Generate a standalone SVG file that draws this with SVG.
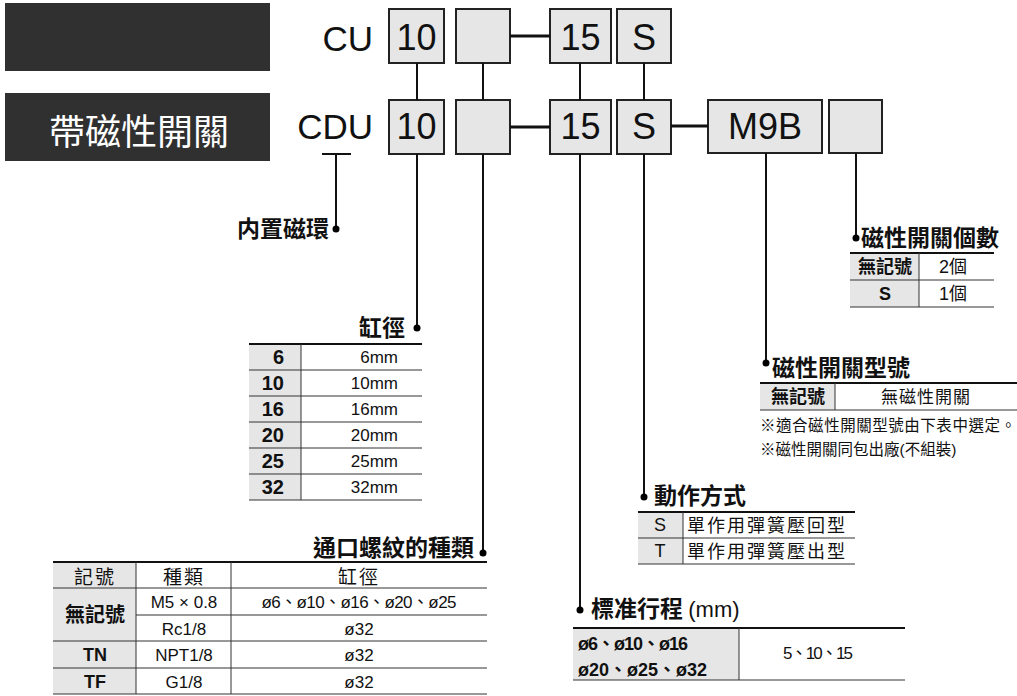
<svg xmlns="http://www.w3.org/2000/svg" width="1017" height="696" viewBox="0 0 1017 696">
<style>
text{font-family:"Liberation Sans","Noto Sans CJK TC",sans-serif;fill:#111}
.box{fill:#e6e6e6;stroke:#222;stroke-width:2}
.big{font-size:36px;text-anchor:middle}
.lbl{font-size:35px;text-anchor:end}
.ln{stroke:#111;stroke-width:2;fill:none}
.dash{stroke:#111;stroke-width:3;fill:none}
.ttl{font-family:"Noto Sans CJK TC",sans-serif;font-size:23px;font-weight:700}
.grey{fill:#e6e6e6}
.top{stroke:#111;stroke-width:2}
.row{stroke:#333;stroke-width:1}
.c{text-anchor:middle}
.e{text-anchor:end}
.b{font-weight:700}
.t18{font-size:18px}
.t17{font-size:17px}
.t20{font-size:20px}
</style>
<g id="header-dark">
<rect x="5" y="3" width="265" height="68" fill="#303030"/>
<rect x="5" y="93" width="265" height="68" fill="#303030"/>
<text x="139" y="145" font-size="36" text-anchor="middle" style="fill:#fff;font-family:'Noto Sans CJK TC',sans-serif">帶磁性開關</text>
</g>
<g id="row1">
<text class="lbl" x="373" y="51">CU</text>
<rect class="box" x="389" y="9" width="55" height="54"/><text class="big" x="416.5" y="50">10</text>
<rect class="box" x="456" y="9" width="54" height="54"/>
<rect class="box" x="550" y="9" width="61" height="54"/><text class="big" x="580.5" y="50">15</text>
<rect class="box" x="617" y="9" width="54" height="54"/><text class="big" x="644" y="50">S</text>
</g>
<g id="row2">
<text class="lbl" x="373" y="139">CDU</text>
<rect class="box" x="389" y="100" width="55" height="54"/><text class="big" x="416.5" y="139">10</text>
<rect class="box" x="456" y="100" width="54" height="54"/>
<rect class="box" x="550" y="100" width="61" height="54"/><text class="big" x="580.5" y="139">15</text>
<rect class="box" x="617" y="100" width="54" height="54"/><text class="big" x="644" y="139">S</text>
<rect class="box" x="708" y="100" width="114" height="53"/><text class="big" x="765" y="139">M9B</text>
<rect class="box" x="829" y="100" width="53" height="53"/>
</g>
<g id="connectors">
<line class="dash" x1="510" y1="36" x2="550" y2="36"/>
<line class="dash" x1="510" y1="127" x2="550" y2="127"/>
<line class="dash" x1="671" y1="126" x2="708" y2="126"/>
<line class="ln" x1="417" y1="63" x2="417" y2="100"/>
<line class="ln" x1="483" y1="63" x2="483" y2="100"/>
<line class="ln" x1="580" y1="63" x2="580" y2="100"/>
<line class="ln" x1="644" y1="63" x2="644" y2="100"/>
<line class="ln" x1="322" y1="154" x2="351" y2="154"/>
<line class="ln" x1="336" y1="154" x2="336" y2="229"/>
<line class="ln" x1="417" y1="154" x2="417" y2="328"/>
<line class="ln" x1="483" y1="154" x2="483" y2="553"/>
<line class="ln" x1="580" y1="154" x2="580" y2="610"/>
<line class="ln" x1="644" y1="154" x2="644" y2="497"/>
<line class="ln" x1="766" y1="153" x2="766" y2="363"/>
<line class="ln" x1="856" y1="153" x2="856" y2="238"/>
<circle cx="336" cy="229" r="3.5"/>
<circle cx="417" cy="328" r="3.5"/>
<circle cx="483" cy="553" r="3.5"/>
<circle cx="580" cy="610" r="3.5"/>
<circle cx="644" cy="497" r="3.5"/>
<circle cx="766" cy="363" r="3.5"/>
<circle cx="856" cy="238" r="3.5"/>
</g>
<g id="magnet-ring">
<text class="ttl e" x="329" y="237">内置磁環</text>
</g>
<g id="bore">
<text class="ttl e" x="405" y="336">缸徑</text>
<rect class="grey" x="249" y="344" width="52" height="156"/>
<line class="top" x1="249" y1="344" x2="422" y2="344"/>
<line class="row" x1="249" y1="370" x2="422" y2="370"/>
<line class="row" x1="249" y1="396" x2="422" y2="396"/>
<line class="row" x1="249" y1="422" x2="422" y2="422"/>
<line class="row" x1="249" y1="448" x2="422" y2="448"/>
<line class="row" x1="249" y1="474" x2="422" y2="474"/>
<line class="row" x1="249" y1="500" x2="422" y2="500"/>
<line class="row" x1="301" y1="344" x2="301" y2="500"/>
<g class="b e t20"><text x="284" y="364">6</text><text x="284" y="390">10</text><text x="284" y="416">16</text><text x="284" y="442">20</text><text x="284" y="468">25</text><text x="284" y="494">32</text></g>
<g class="e t17"><text x="398" y="363">6mm</text><text x="398" y="389">10mm</text><text x="398" y="415">16mm</text><text x="398" y="441">20mm</text><text x="398" y="467">25mm</text><text x="398" y="493">32mm</text></g>
</g>
<g id="port">
<text class="ttl e" x="474" y="556">通口螺紋的種類</text>
<rect class="grey" x="53" y="562" width="83" height="132"/>
<line class="top" x1="53" y1="562" x2="487" y2="562"/>
<line class="row" x1="53" y1="588" x2="487" y2="588"/>
<line class="row" x1="136" y1="615" x2="487" y2="615"/>
<line class="row" x1="53" y1="641" x2="487" y2="641"/>
<line class="row" x1="53" y1="668" x2="487" y2="668"/>
<line class="row" x1="53" y1="694" x2="487" y2="694"/>
<line class="row" x1="136" y1="562" x2="136" y2="694"/>
<line class="row" x1="231" y1="562" x2="231" y2="694"/>
<g class="c" style="letter-spacing:2px;font-size:19px"><text x="95" y="584">記號</text><text x="184" y="584">種類</text><text x="359" y="584">缸徑</text></g>
<text class="c b t20" x="95" y="622">無記號</text>
<text class="c b t18" x="95" y="661">TN</text>
<text class="c b t18" x="95" y="688">TF</text>
<g class="c t17"><text x="184" y="608">M5 × 0.8</text><text x="184" y="635">Rc1/8</text><text x="184" y="661">NPT1/8</text><text x="184" y="688">G1/8</text>
<text x="359" y="608" textLength="195">ø6、ø10、ø16、ø20、ø25</text><text x="359" y="635">ø32</text><text x="359" y="661">ø32</text><text x="359" y="688">ø32</text></g>
</g>
<g id="stroke">
<text class="ttl" x="591" y="617">標准行程 <tspan style="font-family:'Liberation Sans',sans-serif;font-weight:400;font-size:22px">(mm)</tspan></text>
<rect class="grey" x="573" y="628" width="166" height="52"/>
<line class="top" x1="573" y1="628" x2="905" y2="628"/>
<line class="row" x1="573" y1="680" x2="905" y2="680"/>
<line class="row" x1="739" y1="628" x2="739" y2="680"/>
<text class="b t18" x="578" y="650" textLength="110">ø6、ø10、ø16</text>
<text class="b t18" x="578" y="676" textLength="129">ø20、ø25、ø32</text>
<text class="t17" x="783" y="659" textLength="70">5、10、15</text>
</g>
<g id="action">
<text class="ttl" x="654" y="504">動作方式</text>
<rect class="grey" x="638" y="512" width="45" height="52"/>
<line class="top" x1="638" y1="512" x2="855" y2="512"/>
<line class="row" x1="638" y1="538" x2="855" y2="538"/>
<line class="row" x1="638" y1="564" x2="855" y2="564"/>
<line class="row" x1="683" y1="512" x2="683" y2="564"/>
<text class="c t18" x="660" y="531">S</text>
<text class="c t18" x="660" y="557">T</text>
<text class="t18" x="687" y="532" textLength="158">單作用彈簧壓回型</text>
<text class="t18" x="687" y="558" textLength="158">單作用彈簧壓出型</text>
</g>
<g id="switch-count">
<text class="ttl" x="861" y="246">磁性開關個數</text>
<rect class="grey" x="850" y="253" width="69" height="54"/>
<line class="top" x1="850" y1="253" x2="994" y2="253"/>
<line class="row" x1="850" y1="280" x2="994" y2="280"/>
<line class="row" x1="850" y1="307" x2="994" y2="307"/>
<line class="row" x1="919" y1="253" x2="919" y2="307"/>
<text class="c b t18" x="885" y="273">無記號</text>
<text class="c b t18" x="885" y="300">S</text>
<text class="c t18" x="953" y="273">2個</text>
<text class="c t18" x="953" y="300">1個</text>
</g>
<g id="switch-model">
<text class="ttl" x="772" y="376">磁性開關型號</text>
<rect class="grey" x="760" y="383" width="75" height="27"/>
<line class="top" x1="760" y1="383" x2="1017" y2="383"/>
<line class="row" x1="760" y1="410" x2="1017" y2="410"/>
<line class="row" x1="835" y1="383" x2="835" y2="410"/>
<text class="c b t18" x="798" y="403">無記號</text>
<text class="c t17" x="926" y="403" style="letter-spacing:1px">無磁性開關</text>
<text x="760" y="431" font-size="15.5" textLength="256">※適合磁性開關型號由下表中選定。</text>
<text x="760" y="455" font-size="15.5">※磁性開關同包出廠(不組裝)</text>
</g>
</svg>
